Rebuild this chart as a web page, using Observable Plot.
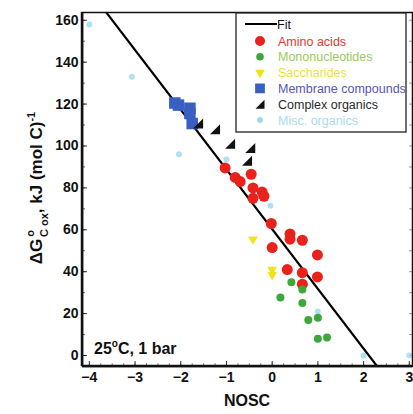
<!DOCTYPE html>
<html><head><meta charset="utf-8">
<script src="https://cdn.jsdelivr.net/npm/d3@7"></script>
<script src="https://cdn.jsdelivr.net/npm/@observablehq/plot@0.6"></script>
<style>body{margin:0;background:#fff;font-family:"Liberation Sans",Arial,sans-serif}</style>
</head><body><div id="chart"></div>
<script>
// ---- data ----
const aminoNOSC = [-1.03,-0.81,-0.70,-0.46,-0.42,-0.22,-0.18,-0.42,-0.02,0.39,0.39,0.66,0.99,0.00,0.33,0.66,0.99,0.66];
const aminoDG   = [89.5,85,83,86.5,80,78,76,75,63,58,55.5,55,48,51.5,41,39.5,37.5,34];
const monoNOSC  = [0.42,0.66,0.18,0.66,0.79,1.00,1.00,1.20];
const monoDG    = [35,31.5,27.7,25,17,18,8,8.6];
const sacchNOSC = [-0.42,0.00,0.00];
const sacchDG   = [55.5,41,38.5];
const membNOSC  = [-2.13,-2.05,-1.80,-1.80,-1.75];
const membDG    = [120.5,119.5,118,115.5,110.7];
const complexNOSC = [-1.62,-1.25,-0.92,-0.48,-0.55];
const complexDG   = [110.7,108,101,99,93];
const miscNOSC  = [-4.0,-3.07,-2.04,-1.0,-0.04,1.0,2.0,3.0];
const miscDG    = [158,133,96,93.5,71.5,21,0,0];
// fit: dG = 60.3 - 28.5 * NOSC
const fitIntercept = 60.3, fitSlope = -28.5;
const xTicks = [-4,-3,-2,-1,0,1,2,3];
const yTicks = [0,20,40,60,80,100,120,140,160];
const xDomain = [-4.15, 3.07];
const yDomain = [-5.25, 163.7];

const legendItems = [
  {label:"Amino acids", color:"#e8221c", text:"#e23a30", kind:"circle"},
  {label:"Mononucleotides", color:"#3ca83a", text:"#9acb5a", kind:"green"},
  {label:"Saccharides", color:"#f2e21a", text:"#eedf3a", kind:"invtri"},
  {label:"Membrane compounds", color:"#3a5fc2", text:"#5656b4", kind:"square"},
  {label:"Complex organics", color:"#111", text:"#2a2a2a", kind:"rtri"},
  {label:"Misc. organics", color:"#9dd8ec", text:"#a9dcee", kind:"misc"}
];

const zip = (xs, ys) => xs.map((x,i)=>({x, y: ys[i]}));
const amino = zip(aminoNOSC, aminoDG), mono = zip(monoNOSC, monoDG),
      sacch = zip(sacchNOSC, sacchDG), memb = zip(membNOSC, membDG),
      complex = zip(complexNOSC, complexDG), misc = zip(miscNOSC, miscDG);
const fitLine = [-4.3, 3.2].map(x => ({x, y: fitIntercept + fitSlope*x}));

const rightTri = {draw(ctx, size){ const s = Math.sqrt(size/Math.PI);
  ctx.moveTo(s,-s); ctx.lineTo(s,s); ctx.lineTo(-s,s); ctx.closePath(); }};

const W = 413, H = 414, mL = 82, mR = 1, mT = 12, mB = 48;
const pw = W - mL - mR, ph = H - mT - mB;
const xMinor = d3.range(-4, 3.01, 0.25).map(v=>+v.toFixed(2));
const yMinor = d3.range(0, 161, 10);

const font = '"Liberation Sans", Arial, sans-serif';
const plot = Plot.plot({
  width: W, height: H, marginLeft: mL, marginRight: mR, marginTop: mT, marginBottom: mB,
  style: {fontFamily: font, background: "#fff", overflow: "visible"},
  x: {domain: xDomain},
  y: {domain: yDomain},
  marks: [
    // inward ticks
    Plot.tickY(yMinor, {y: d=>d, stroke:"#666", insetRight: pw-3}),
    Plot.tickY(yTicks, {y: d=>d, stroke:"#333", insetRight: pw-5}),
    Plot.tickY(yMinor, {y: d=>d, stroke:"#999", insetLeft: pw-3}),
    Plot.tickX(xMinor, {x: d=>d, stroke:"#888", insetTop: ph-3}),
    Plot.tickX(xTicks, {x: d=>d, stroke:"#333", insetTop: ph-5}),
    Plot.axisY({ticks: yTicks, tickSize: 0, tickPadding: 4, fontSize: 14, fontWeight: "bold", fill: "#111", label: null}),
    Plot.axisX({ticks: xTicks, tickSize: 0, tickPadding: 6, fontSize: 14, fontWeight: "bold", fill: "#111", label: null}),
    Plot.dot(misc, {x:"x", y:"y", r:3, fill:"#9dd8ec", fillOpacity:0.8}),
    Plot.line(fitLine, {x:"x", y:"y", stroke:"#000", strokeWidth:2.2, clip:true}),
    Plot.dot(memb, {x:"x", y:"y", symbol:"square", r:6.5, fill:"#3a5fc2"}),
    Plot.dot(complex, {x:"x", y:"y", symbol:rightTri, r:5, fill:"#111"}),
    Plot.dot(amino, {x:"x", y:"y", r:5.5, fill:"#e8221c"}),
    Plot.dot(sacch, {x:"x", y:"y", symbol:"triangle", rotate:180, r:3.6, fill:"#f2e21a"}),
    Plot.dot(mono, {x:"x", y:"y", r:4, fill:"#3ca83a"}),
    Plot.frame({stroke:"#111", strokeWidth:1.5})
  ]
});
document.getElementById("chart").appendChild(plot);

const svg = d3.select(plot);
// thicker left & bottom axis lines
svg.append("line").attr("x1", mL).attr("x2", mL).attr("y1", mT).attr("y2", H-mB).attr("stroke","#111").attr("stroke-width",2.5);
svg.append("line").attr("x1", mL).attr("x2", W-mR).attr("y1", H-mB).attr("y2", H-mB).attr("stroke","#111").attr("stroke-width",2.5);

// y label
const yl = svg.append("text").attr("transform","translate(42,188) rotate(-90)")
  .attr("text-anchor","middle").attr("font-family",font).attr("font-weight","bold").attr("font-size",17).attr("fill","#111");
yl.append("tspan").text("ΔG");
yl.append("tspan").attr("font-size",11).attr("dy",-8).attr("dx",2).text("o");
yl.append("tspan").attr("font-size",11).attr("dy",14).attr("dx",-7).text("C ox");
yl.append("tspan").attr("dy",-6).text(", kJ (mol C)");
yl.append("tspan").attr("font-size",11).attr("dy",-7).text("-1");

// x label
svg.append("text").attr("x",247).attr("y",406).attr("text-anchor","middle")
  .attr("font-family",font).attr("font-weight","bold").attr("font-size",16).attr("fill","#111").text("NOSC");

// condition note
const note = svg.append("text").attr("x",94).attr("y",354).attr("text-anchor","start").attr("font-family",font)
  .attr("font-weight","bold").attr("font-size",16).attr("fill","#111");
note.append("tspan").text("25");
note.append("tspan").attr("font-size",10).attr("dy",-7).text("o");
note.append("tspan").attr("dy",7).text("C, 1 bar");

// legend
const lg = svg.append("g").attr("font-family",font).attr("font-size",12.5).attr("text-anchor","start");
lg.append("rect").attr("x",236).attr("y",13).attr("width",170).attr("height",119)
  .attr("fill","#fff").attr("stroke","#222").attr("stroke-width",1.3);
lg.append("line").attr("x1",245).attr("x2",277).attr("y1",24).attr("y2",24).attr("stroke","#000").attr("stroke-width",2);
lg.append("text").attr("x",277).attr("y",28.5).attr("fill","#111").text("Fit");
legendItems.forEach((it, i) => {
  const cy = 41 + i*15.8, cx = 260;
  const sym = it.kind==="circle" ? d3.symbolCircle : it.kind==="square" ? d3.symbolSquare :
              it.kind==="invtri" ? d3.symbolTriangle : it.kind==="rtri" ? rightTri : d3.symbolCircle;
  const r = it.kind==="circle" ? 5 : it.kind==="square" ? 5.5 : it.kind==="misc" ? 3 : it.kind==="green" ? 3.8 : it.kind==="invtri" ? 3.6 : 4.5;
  lg.append("path").attr("d", d3.symbol(sym, Math.PI*r*r)())
    .attr("transform", `translate(${cx},${cy})` + (it.kind==="invtri" ? " rotate(180)" : ""))
    .attr("fill", it.color);
  lg.append("text").attr("x",278).attr("y",cy+4.5).attr("fill",it.text).text(it.label);
});
</script>
</body></html>
